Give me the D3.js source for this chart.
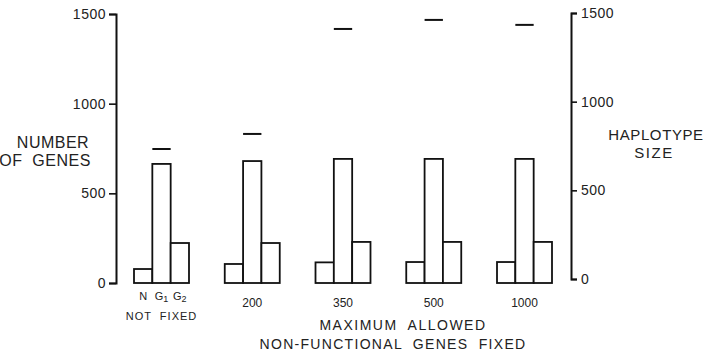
<!DOCTYPE html>
<html>
<head>
<meta charset="utf-8">
<script src="https://cdn.jsdelivr.net/npm/d3@7"></script>
<style>
  body { margin: 0; background: #fff; }
  svg { display: block; font-family: "Liberation Sans", "DejaVu Sans", sans-serif; }
  text { white-space: pre; }
</style>
</head>
<body>
<div id="chart"></div>
<script>
const groups = ['NOT FIXED', '200', '350', '500', '1000'];
const kinds = ['N', 'G1', 'G2'];
const nGenes = [78, 106, 115, 117, 117];
const g1Genes = [664, 680, 692, 692, 692];
const g2Genes = [223, 223, 229, 229, 229];
const haplotypeSize = [733, 818, 1410, 1461, 1433];
const yTicks = [0, 500, 1000, 1500];

const width = 705, height = 355;

const svg = d3.select('#chart').append('svg')
  .attr('width', width)
  .attr('height', height);

const x = d3.scaleBand().domain(groups).range([134, 552]).paddingInner(0.394).paddingOuter(0);
const xInner = d3.scaleBand().domain(kinds).range([0, x.bandwidth()]);
const yLeft = d3.scaleLinear().domain([0, 1500]).range([283, 14]);
const yRight = d3.scaleLinear().domain([0, 1500]).range([279, 13]);

// axes
const left = svg.append('g')
  .attr('transform', 'translate(116,0)')
  .call(d3.axisLeft(yLeft).tickValues(yTicks).tickFormat(d3.format('d')).tickSize(7).tickPadding(3));
const right = svg.append('g')
  .attr('transform', 'translate(571,0)')
  .call(d3.axisRight(yRight).tickValues(yTicks).tickFormat(d3.format('d')).tickSize(6).tickPadding(4));

[left, right].forEach(ax => {
  ax.select('.domain').attr('stroke', '#111').attr('stroke-width', 2);
  ax.selectAll('.tick line').attr('stroke', '#111').attr('stroke-width', 1.6);
  ax.selectAll('.tick text').style('font-size', '14px').style('letter-spacing', '0.5px').attr('fill', '#222');
});

// bars
const rows = groups.map((g, i) => ({ group: g, values: [nGenes[i], g1Genes[i], g2Genes[i]] }));

const grp = svg.selectAll('g.grp')
  .data(rows)
  .enter()
  .append('g')
  .attr('class', 'grp')
  .attr('transform', d => `translate(${x(d.group)},0)`);

grp.selectAll('rect')
  .data(d => d.values.map((v, j) => ({ kind: kinds[j], v: v })))
  .enter()
  .append('rect')
  .attr('x', d => xInner(d.kind))
  .attr('width', xInner.bandwidth())
  .attr('y', d => yLeft(d.v))
  .attr('height', d => yLeft(0) - yLeft(d.v))
  .attr('fill', '#fff')
  .attr('stroke', '#111')
  .attr('stroke-width', 1.8);

// haplotype size dashes
grp.append('line')
  .attr('x1', (d, i) => xInner('G1'))
  .attr('x2', (d, i) => xInner('G1') + xInner.bandwidth())
  .attr('y1', (d, i) => yRight(haplotypeSize[i]))
  .attr('y2', (d, i) => yRight(haplotypeSize[i]))
  .attr('stroke', '#111')
  .attr('stroke-width', 2);

// category labels
const first = svg.append('g').attr('transform', `translate(${x(groups[0])},0)`);
kinds.forEach(k => {
  const t = first.append('text')
    .attr('x', xInner(k) + xInner.bandwidth() / 2)
    .attr('y', 300)
    .attr('text-anchor', 'middle')
    .style('font-size', '11px')
    .attr('fill', '#222');
  t.append('tspan').text(k.charAt(0));
  if (k.length > 1) {
    t.append('tspan').attr('dy', 2).style('font-size', '9px').text(k.slice(1));
  }
});
svg.append('text')
  .attr('x', x(groups[0]) + x.bandwidth() / 2)
  .attr('y', 320)
  .attr('text-anchor', 'middle')
  .style('font-size', '11px')
  .style('letter-spacing', '1px')
  .attr('fill', '#222')
  .text('NOT  FIXED');

svg.selectAll('text.glabel')
  .data(groups.slice(1))
  .enter()
  .append('text')
  .attr('class', 'glabel')
  .attr('x', d => x(d) + xInner('G1') + xInner.bandwidth() / 2)
  .attr('y', 307)
  .attr('text-anchor', 'middle')
  .style('font-size', '12px')
  .attr('fill', '#222')
  .text(d => d);

// axis titles
const title = (s, cx, y, size, spacing) => {
  svg.append('text')
    .attr('x', cx)
    .attr('y', y)
    .attr('text-anchor', 'middle')
    .style('font-size', size + 'px')
    .style('letter-spacing', spacing + 'px')
    .attr('fill', '#222')
    .text(s);
};
title('NUMBER', 53, 148, 16, 0.5);
title('OF  GENES', 45, 166, 16, 0.5);
title('HAPLOTYPE', 656, 140, 15, 0.6);
title('SIZE', 654, 158, 15, 1.5);
title('MAXIMUM  ALLOWED', 403, 330, 14, 1.5);
title('NON-FUNCTIONAL  GENES  FIXED', 393, 349, 14, 1.3);
</script>
</body>
</html>
